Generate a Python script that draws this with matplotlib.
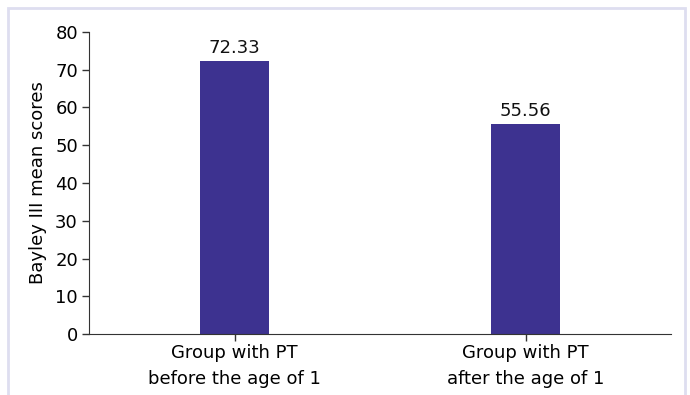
import matplotlib.pyplot as plt
from matplotlib.patches import Rectangle

groups = ["Group with PT\nbefore the age of 1", "Group with PT\nafter the age of 1"]
scores = [72.33, 55.56]
labels = ["72.33", "55.56"]

fig = plt.figure(figsize=(6.9, 3.95), dpi=100)
# thin frame around the panel, open at the bottom
fig.patches.append(Rectangle((8 / 690, -0.05), 677 / 690, 1.05 - 8 / 395,
                             transform=fig.transFigure, fill=False,
                             edgecolor="#dedef0", linewidth=2))
ax = fig.add_axes([0.129, 0.1544, 0.8435, 0.7646])

x = range(len(groups))
bars = ax.bar(x, scores, width=0.236, color="#3d3290")
for b, lab in zip(bars, labels):
    ax.text(b.get_x() + b.get_width() / 2, b.get_height() + 1, lab,
            ha="center", va="bottom", fontsize=13, color="#111111")

ax.set_xlim(-0.5, 1.5)
ax.set_ylim(0, 80)
ax.set_yticks(range(0, 81, 10))
ax.set_xticks(list(x))
ax.set_xticklabels(groups, fontsize=13, linespacing=1.6)
ax.tick_params(axis="y", labelsize=13, length=5, width=1, color="#333333", pad=3)
ax.tick_params(axis="x", length=5, width=1, color="#333333", pad=2)
ax.set_ylabel("Bayley III mean scores", fontsize=13, labelpad=6)
ax.spines["top"].set_visible(False)
ax.spines["right"].set_visible(False)
ax.spines["left"].set_color("#333333")
ax.spines["bottom"].set_color("#333333")

fig.savefig("out.png", dpi=100)
